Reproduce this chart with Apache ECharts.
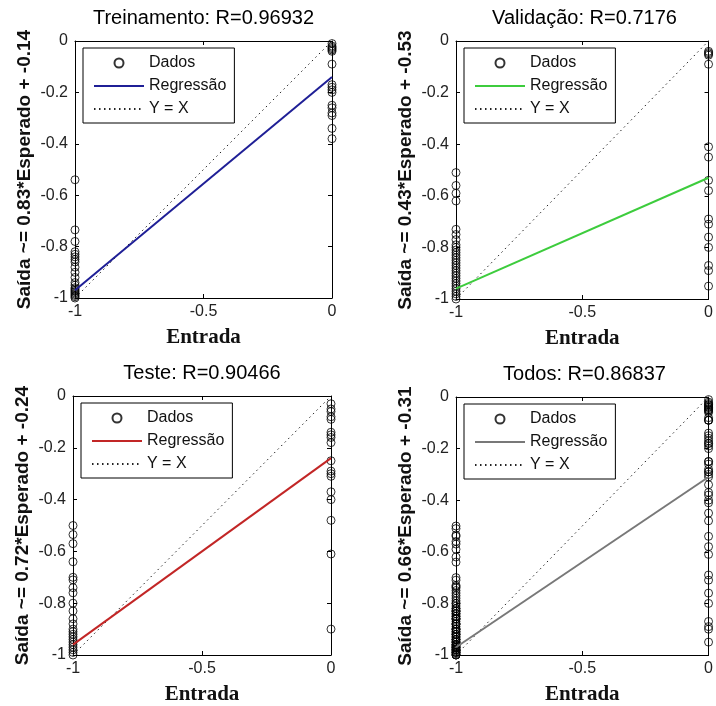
<!DOCTYPE html>
<html lang="pt">
<head>
    <meta charset="UTF-8">
    <title>Regressão</title>
    <script type="text/javascript" src="https://cdn.jsdelivr.net/npm/echarts@6/dist/echarts.min.js"></script>
    <style>
        html, body { margin: 0; padding: 0; background: #fff; }
    </style>
</head>
<body>
<div id="main" style="width: 716px;height: 706px;"></div>

<script type="text/javascript">

    // textos de cada painel
    var titles = ['Treinamento: R=0.96932', 'Validação: R=0.7176', 'Teste: R=0.90466', 'Todos: R=0.86837'];
    var yNames = ['Saída ~= 0.83*Esperado + -0.14', 'Saída ~= 0.43*Esperado + -0.53',
        'Saída ~= 0.72*Esperado + -0.24', 'Saída ~= 0.66*Esperado + -0.31'];
    var xName = 'Entrada';
    var legendNames = ['Dados', 'Regressão', 'Y = X'];

    // ticks
    var xTicks = [-1, -0.5, 0];
    var yTicks = [-1, -0.8, -0.6, -0.4, -0.2, 0];

    // saidas (y) dos pontos com alvo -1 e alvo 0
    var trainLeft = [-0.54, -0.735, -0.78, -0.82, -0.83, -0.84, -0.85, -0.86, -0.88, -0.90, -0.92, -0.94,
        -0.95, -0.96, -0.965, -0.97, -0.975, -0.98, -0.985, -0.99, -0.995, -1.0];
    var trainRight = [-0.01, -0.02, -0.025, -0.03, -0.035, -0.04, -0.09, -0.17, -0.18, -0.19, -0.20,
        -0.25, -0.26, -0.28, -0.29, -0.34, -0.38];
    var valLeft = [-0.51, -0.56, -0.59, -0.62, -0.73, -0.75, -0.77, -0.79, -0.80, -0.81, -0.82, -0.83,
        -0.84, -0.85, -0.86, -0.87, -0.88, -0.89, -0.90, -0.91, -0.92, -0.93, -0.94, -0.95, -0.96,
        -0.97, -0.98, -0.99, -1.0];
    var valRight = [-0.04, -0.045, -0.05, -0.055, -0.09, -0.41, -0.45, -0.54, -0.58, -0.69, -0.71,
        -0.76, -0.80, -0.87, -0.89, -0.95];
    var testLeft = [-0.50, -0.535, -0.57, -0.64, -0.70, -0.71, -0.74, -0.76, -0.80, -0.83, -0.86, -0.88,
        -0.90, -0.91, -0.92, -0.93, -0.94, -0.95, -0.96, -0.97, -0.98, -0.99, -1.0];
    var testRight = [-0.03, -0.05, -0.06, -0.08, -0.09, -0.14, -0.15, -0.16, -0.18, -0.25, -0.29, -0.30,
        -0.31, -0.37, -0.40, -0.48, -0.61, -0.90];

    // retas de regressao: valor em x=-1 e em x=0
    var regStart = [-0.97, -0.96, -0.96, -0.97];
    var regEnd = [-0.14, -0.53, -0.24, -0.31];

    var leftCols = [trainLeft, valLeft, testLeft, trainLeft.concat(valLeft, testLeft)];
    var rightCols = [trainRight, valRight, testRight, trainRight.concat(valRight, testRight)];

    var lineColors = ['#1f1f96', '#3dcc3d', '#c22626', '#787878'];
    var boxes = [
        {left: 75, top: 41, width: 257, height: 257},
        {left: 456, top: 41, width: 257, height: 258},
        {left: 73, top: 396, width: 258, height: 259},
        {left: 456, top: 397, width: 257, height: 259}
    ];

    var sans = 'Liberation Sans';
    var chart = echarts.init(document.getElementById('main'));

    var grid = [], xAxis = [], yAxis = [], series = [], legend = [], title = [];
    var noSymbol = {color: 'rgba(0,0,0,0)', borderWidth: 0, opacity: 0};

    boxes.forEach(function (b, i) {
        grid.push({left: b.left, top: b.top, width: b.width, height: b.height});

        title.push({
            text: titles[i],
            left: b.left + b.width / 2,
            top: b.top - 33,
            textAlign: 'center',
            padding: 0,
            textStyle: {fontFamily: sans, fontSize: 20, fontWeight: 'normal', color: '#000'}
        });

        var tick = {inside: true, length: 4, lineStyle: {color: '#000'}};
        var line = {onZero: false, lineStyle: {color: '#000', width: 1}};
        var lab = {fontFamily: sans, fontSize: 16, color: '#222'};

        xAxis.push({
            gridIndex: i, type: 'value', position: 'bottom',
            min: xTicks[0], max: xTicks[xTicks.length - 1], interval: 0.5,
            name: xName, nameLocation: 'middle', nameGap: 29,
            nameTextStyle: {fontFamily: 'Liberation Serif', fontWeight: 'bold', fontSize: 21, color: '#111'},
            axisLine: line, axisTick: tick,
            axisLabel: Object.assign({margin: 6}, lab),
            splitLine: {show: false}
        });
        xAxis.push({
            gridIndex: i, type: 'value', position: 'top',
            min: -1, max: 0, interval: 0.5,
            axisLine: line, axisTick: tick, axisLabel: {show: false}, splitLine: {show: false}
        });
        yAxis.push({
            gridIndex: i, type: 'value', position: 'left',
            min: yTicks[0], max: yTicks[yTicks.length - 1], interval: 0.2,
            name: yNames[i], nameLocation: 'middle', nameGap: 41,
            nameTextStyle: {fontFamily: sans, fontWeight: 'bold', fontSize: 19, color: '#111'},
            axisLine: line, axisTick: tick,
            axisLabel: Object.assign({margin: 7}, lab),
            splitLine: {show: false}
        });
        yAxis.push({
            gridIndex: i, type: 'value', position: 'right',
            min: -1, max: 0, interval: 0.2,
            axisLine: line, axisTick: tick, axisLabel: {show: false}, splitLine: {show: false}
        });

        var pts = leftCols[i].map(function (v) { return [-1, v]; })
            .concat(rightCols[i].map(function (v) { return [0, v]; }));

        series.push({
            name: 'Dados|' + i, type: 'scatter', xAxisIndex: 2 * i, yAxisIndex: 2 * i,
            symbol: 'circle', symbolSize: 8,
            itemStyle: {color: 'rgba(0,0,0,0)', borderColor: '#000', borderWidth: 1},
            data: pts, z: 3
        });
        series.push({
            name: 'Regressão|' + i, type: 'line', xAxisIndex: 2 * i, yAxisIndex: 2 * i,
            symbol: 'none', lineStyle: {color: lineColors[i], width: 2},
            itemStyle: {color: lineColors[i]},
            data: [[-1, regStart[i]], [0, regEnd[i]]], z: 4
        });
        series.push({
            name: 'Y = X|' + i, type: 'line', xAxisIndex: 2 * i, yAxisIndex: 2 * i,
            symbol: 'none', lineStyle: {color: '#222', width: 1, type: [1.5, 3.5]},
            itemStyle: {color: '#222'},
            data: [[-1, -1], [0, 0]], z: 2
        });

        legend.push({
            left: b.left + 8, top: b.top + 7,
            orient: 'vertical', itemWidth: 50, itemHeight: 9, itemGap: 7,
            padding: [7, 8, 6, 10],
            borderColor: '#000', borderWidth: 1, backgroundColor: '#fff',
            selectedMode: false,
            data: [
                {name: legendNames[0] + '|' + i},
                {name: legendNames[1] + '|' + i, itemStyle: noSymbol},
                {name: legendNames[2] + '|' + i, itemStyle: noSymbol}
            ],
            formatter: function (n) { return n.split('|')[0]; },
            textStyle: {fontFamily: sans, fontSize: 16, color: '#111', lineHeight: 16}
        });
    });

    chart.setOption({
        animation: false,
        title: title,
        legend: legend,
        grid: grid,
        xAxis: xAxis,
        yAxis: yAxis,
        series: series
    });
</script>
</body>
</html>
